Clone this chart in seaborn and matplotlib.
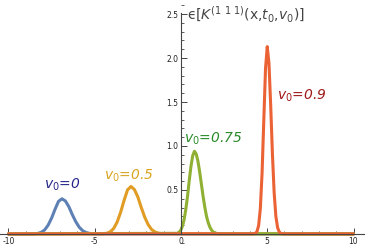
import matplotlib
matplotlib.use("Agg")
import pandas as pd
import seaborn as sns
from matplotlib import pyplot as plt
from matplotlib.ticker import MultipleLocator

# samples; curves are zero away from their peaks
x_v0_0 = [-10, -8.5, -8.3, -8.1, -7.9, -7.7, -7.5, -7.3, -7.1, -6.9, -6.7, -6.5,
          -6.3, -6.1, -5.9, -5.7, -5.5, -5.3, -5.1, 10]
y_v0_0 = [0, 0.001, 0.006, 0.018, 0.046, 0.10, 0.18, 0.28, 0.37, 0.40, 0.375, 0.31,
          0.22, 0.14, 0.077, 0.037, 0.016, 0.006, 0.002, 0]

x_v0_05 = [-10, -4.5, -4.3, -4.1, -3.9, -3.7, -3.5, -3.3, -3.1, -2.9, -2.7, -2.5,
           -2.3, -2.1, -1.9, -1.7, -1.5, -1.3, -1.1, 10]
y_v0_05 = [0, 0.002, 0.008, 0.024, 0.062, 0.135, 0.245, 0.38, 0.50, 0.54, 0.505, 0.42,
           0.30, 0.19, 0.105, 0.05, 0.022, 0.008, 0.003, 0]

x_v0_075 = [-10, -0.22, -0.12, -0.02, 0.08, 0.18, 0.28, 0.38, 0.48, 0.58, 0.68, 0.78,
            0.88, 0.98, 1.08, 1.18, 1.28, 1.38, 1.48, 1.58, 1.68, 1.78, 1.88, 1.98,
            2.18, 10]
y_v0_075 = [0, 0.007, 0.018, 0.04, 0.086, 0.16, 0.28, 0.43, 0.61, 0.77, 0.89, 0.94,
            0.91, 0.83, 0.71, 0.57, 0.43, 0.305, 0.20, 0.127, 0.075, 0.041, 0.021, 0.010,
            0.002, 0]

x_v0_09 = [-10, 4.2, 4.3, 4.4, 4.5, 4.6, 4.7, 4.8, 4.9, 5.0, 5.1, 5.2, 5.3, 5.4, 5.5,
           5.6, 5.7, 5.8, 5.9, 10]
y_v0_09 = [0, 0.001, 0.005, 0.024, 0.094, 0.29, 0.69, 1.29, 1.88, 2.13, 1.94, 1.46,
           0.91, 0.47, 0.20, 0.071, 0.021, 0.005, 0.001, 0]

series = ["0", "0.5", "0.75", "0.9"]
colors = ["#5e81b5", "#e19c24", "#8fb032", "#eb6235"]
label_colors = ["#27278a", "#d9a520", "#2a8a2a", "#a01818"]
label_pos = [(-6.9, 0.56), (-3.0, 0.66), (1.9, 1.08), (7.0, 1.57)]

frames = []
for name, xs, ys in zip(series, [x_v0_0, x_v0_05, x_v0_075, x_v0_09],
                        [y_v0_0, y_v0_05, y_v0_075, y_v0_09]):
    frames.append(pd.DataFrame({"x": xs, "y": ys, "v0": name}))
df = pd.concat(frames, ignore_index=True)

sns.set_style("white")
plt.rcParams["axes.unicode_minus"] = False

fig = plt.figure(figsize=(3.68, 2.48), dpi=100)
ax = fig.add_axes([0, 0, 1, 1])
sns.lineplot(data=df, x="x", y="y", hue="v0", hue_order=series, palette=colors,
             estimator=None, linewidth=2.2, legend=False, ax=ax)

ax.set_xlim(-10.49, 10.84)
ax.set_ylim(-0.16, 2.66)

for s in ["top", "right"]:
    ax.spines[s].set_visible(False)
ax.spines["left"].set_position(("data", 0))
ax.spines["bottom"].set_position(("data", 0))
ax.spines["left"].set_bounds(0, 2.51)
ax.spines["bottom"].set_bounds(-10.49, 10.6)
for s in ["left", "bottom"]:
    ax.spines[s].set_color("#444444")
    ax.spines[s].set_linewidth(0.8)

ax.set_xticks([-10, -5, 0, 5, 10])
ax.set_xticklabels(["-10", "-5", "0", "5", "10"])
ax.set_yticks([0.5, 1.0, 1.5, 2.0, 2.5])
ax.set_yticklabels(["0.5", "1.0", "1.5", "2.0", "2.5"])
ax.xaxis.set_minor_locator(MultipleLocator(1))
ax.yaxis.set_minor_locator(MultipleLocator(0.1))
ax.tick_params(which="major", direction="in", length=4, width=0.7, color="#444444",
               labelsize=5.5, pad=2, labelcolor="#222222")
ax.tick_params(which="minor", direction="in", length=2, width=0.6, color="#444444")
ax.tick_params(axis="x", which="both", bottom=True)
ax.tick_params(axis="y", which="both", left=True)
ax.set_xlabel("")
ax.set_ylabel("")

for name, c, (tx, ty) in zip(series, label_colors, label_pos):
    ax.text(tx, ty, r"$v_0$=" + name, color=c, fontsize=10, style="italic",
            ha="center", va="center")

ax.text(0.35, 2.5, r"ϵ[$K^{(1\ 1\ 1)}$(x,$t_0$,$v_0$)]", color="#444444",
        fontsize=10, ha="left", va="center")

fig.savefig("out.png", dpi=100)
